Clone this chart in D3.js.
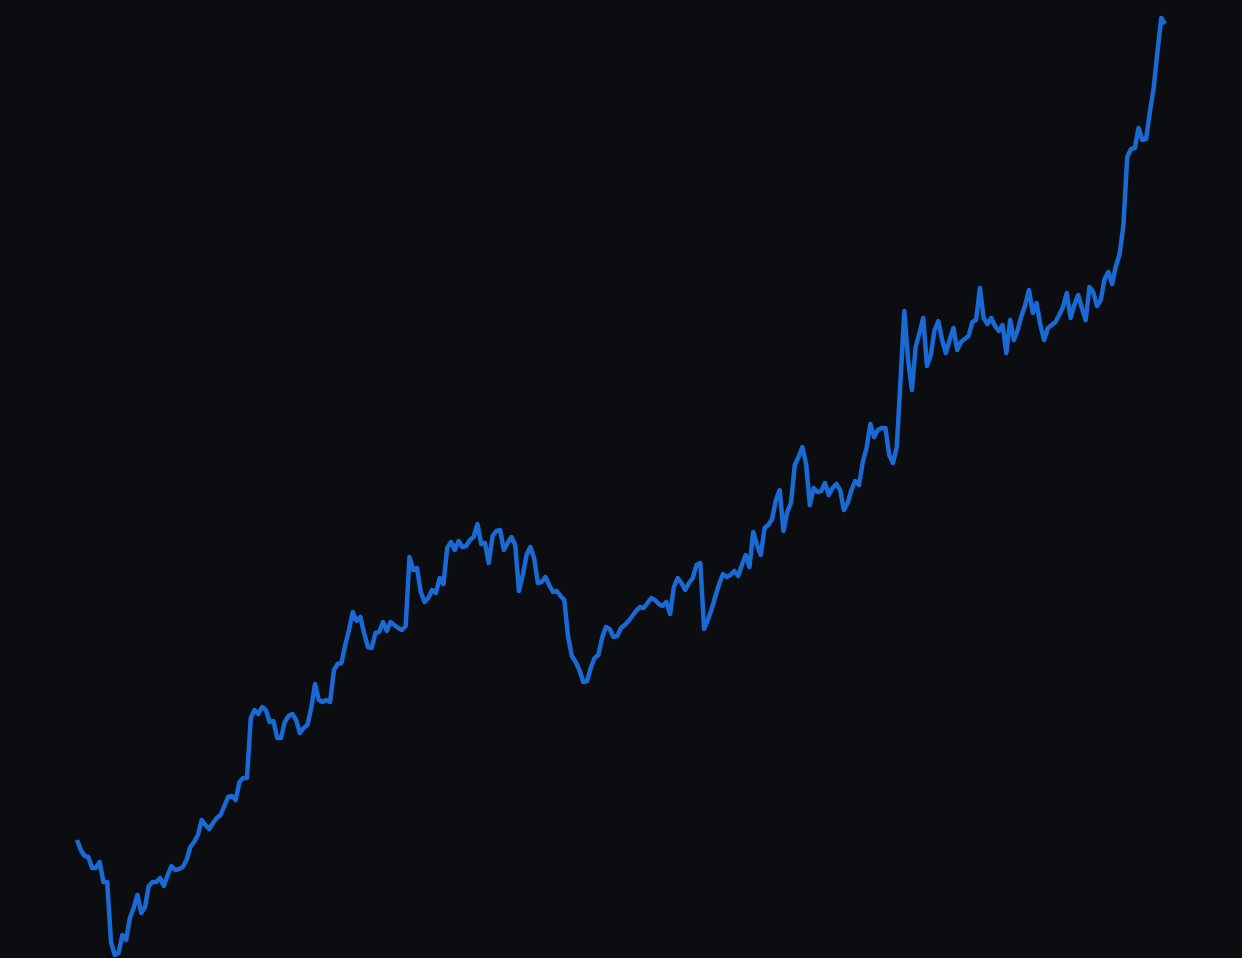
<!DOCTYPE html>
<html>
<head>
<meta charset="utf-8">
<script src="https://cdn.jsdelivr.net/npm/d3@7"></script>
<style>
html,body{margin:0;padding:0;background:#0b0d10;}
svg{display:block;}
</style>
</head>
<body>
<svg id="chart" width="1242" height="958"></svg>
<script>
const values = [11.8,10.8,10.2,10.1,9.0,9.0,9.6,7.6,7.6,1.6,0.3,0.5,2.3,1.8,4.0,5.0,6.3,4.5,5.1,7.2,
7.6,7.6,8.0,7.2,8.3,9.2,8.8,8.9,9.1,9.8,11.1,11.6,12.3,13.8,13.3,12.9,13.5,14.0,14.3,15.2,
16.1,16.2,15.8,17.6,18.0,18.0,24.0,24.8,24.4,25.1,24.8,23.6,23.7,22.0,22.0,23.6,24.2,24.4,23.8,22.5,
23.0,23.3,25.0,27.4,25.8,25.6,25.8,25.6,28.8,29.4,29.5,31.3,32.8,34.6,33.7,34.1,32.5,31.1,31.0,32.5,
32.6,33.6,32.7,33.6,33.3,33.0,32.8,33.2,40.1,38.8,39.0,36.6,35.6,36.0,36.8,36.5,38.0,37.4,41.0,41.6,40.8,
41.7,41.1,41.2,41.8,42.1,43.4,41.4,41.5,39.5,42.2,42.7,42.8,40.8,41.5,42.1,41.3,36.7,38.3,40.3,41.1,
40.0,37.5,37.6,38.1,37.3,36.6,36.7,36.2,35.8,32.1,30.2,29.6,28.8,27.6,27.7,29.0,30.0,30.3,32.0,33.1,
32.9,32.1,32.2,33.0,33.3,33.7,34.2,34.7,35.1,35.0,35.5,36.0,35.8,35.4,35.2,35.6,34.4,37.1,38.0,37.5,36.8,
37.5,38.0,39.3,39.5,32.9,33.8,34.9,36.2,37.4,38.4,38.1,38.3,38.7,38.2,39.3,40.3,39.1,42.6,41.3,40.3,
43.0,43.3,43.9,45.8,46.8,42.7,44.6,45.5,49.3,50.1,51.1,49.4,45.3,47.0,46.6,46.7,47.5,46.3,47.0,47.4,
46.8,44.8,45.5,46.8,47.7,47.3,49.6,51.0,53.4,52.1,52.8,53.0,53.0,50.3,49.5,51.1,57.8,64.7,59.8,56.8,
61.1,62.5,64.0,59.2,60.3,62.8,63.7,61.8,60.5,61.8,63.0,60.8,61.6,61.9,62.2,63.6,63.8,67.0,64.0,63.4,
64.0,63.2,62.7,63.3,60.5,63.8,61.8,62.8,64.2,65.3,66.8,64.5,65.5,63.3,61.8,63.0,63.3,63.6,64.3,65.1,
66.5,64.0,65.3,66.3,65.0,63.8,67.1,66.6,65.2,65.8,67.9,68.6,67.4,69.2,70.4,73.3,80.1,80.9,81.0,
83.0,81.8,81.9,84.6,87.0,90.6,94.0,93.4];

const yDomain = [0, 94];

const svg = d3.select("#chart");
const x = d3.scaleLinear().domain([0, values.length - 1]).range([77, 1165]);
const y = d3.scaleLinear().domain(yDomain).range([958, 18]);

const line = d3.line()
  .x((d, i) => x(i))
  .y(d => y(d));

svg.append("path")
  .datum(values)
  .attr("fill", "none")
  .attr("stroke", "#1a6ad6")
  .attr("stroke-width", 4.5)
  .attr("stroke-linejoin", "round")
  .attr("stroke-linecap", "butt")
  .attr("d", line);
</script>
</body>
</html>
